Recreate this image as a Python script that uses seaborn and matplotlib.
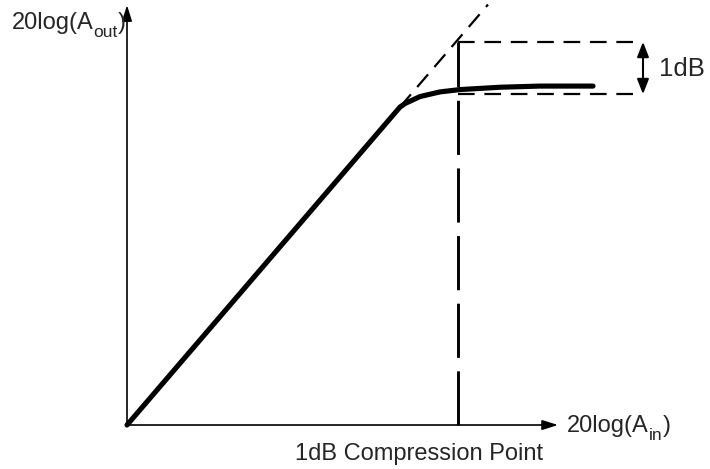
import matplotlib
matplotlib.use('Agg')
import matplotlib.pyplot as plt
import seaborn as sns
import pandas as pd

# Transfer curve of the amplifier (arbitrary dB units)
input_db = [0, 27.3, 27.8, 29.3, 31.3, 33.3, 35.3, 37.3, 41.3, 46.6]
output_db = [0, 27.3, 27.6, 28.2, 28.6, 28.8, 28.9, 29.0, 29.1, 29.1]

# Ideal (uncompressed) extension of the linear region
ideal_in = [27.3, 36.1]
ideal_out = [27.3, 36.1]

# 1dB compression point markers
p1db_in = 33.1
ideal_level = 32.9
compressed_level = 28.4
marker_end = 50.6
x_axis_end = 43.1
y_axis_end = 36.05

sns.set_style('white')
plt.rcParams['font.family'] = ['Liberation Sans', 'DejaVu Sans']
plt.rcParams['lines.scale_dashes'] = False

fig = plt.figure(figsize=(7.1, 4.69), dpi=100)
ax = fig.add_axes([0, 0, 1, 1])

curve = pd.DataFrame({'in': input_db, 'out': output_db})
sns.lineplot(data=curve, x='in', y='out', color='black', linewidth=3.7,
             sort=False, ax=ax, solid_capstyle='round')

ideal = pd.DataFrame({'in': ideal_in, 'out': ideal_out})
sns.lineplot(data=ideal, x='in', y='out', color='black', linewidth=1.6,
             ax=ax).lines[-1].set_dashes((12, 7))

# vertical line at the compression point (drawn upwards from the axis)
ax.plot([p1db_in, p1db_in], [0, ideal_level], color='black', linewidth=2.1,
        dashes=(39, 9.7))
# horizontal reference lines
ax.plot([p1db_in, marker_end], [ideal_level, ideal_level], color='black',
        linewidth=1.6, dashes=(12, 7))
ax.plot([p1db_in, marker_end], [compressed_level, compressed_level],
        color='black', linewidth=1.6, dashes=(12, 7))

# axes with arrows
arrow = dict(arrowstyle='-|>,head_length=0.95,head_width=0.3', lw=1.2,
             color='black', shrinkA=0, shrinkB=0)
ax.annotate('', xy=(x_axis_end, 0), xytext=(0, 0), arrowprops=arrow)
ax.annotate('', xy=(0, y_axis_end), xytext=(0, 0), arrowprops=arrow)

# 1dB double arrow
ax.annotate('', xy=(51.6, compressed_level), xytext=(51.6, ideal_level),
            arrowprops=dict(arrowstyle='<|-|>,head_length=0.9,head_width=0.35',
                            lw=1.5, color='black', shrinkA=0, shrinkB=0))
ax.text(53.2, 30.6, '1dB', fontsize=18.5, ha='left', va='center')


def sub_label(x, y, main, sub):
    t1 = ax.text(x, y, main, fontsize=17, ha='left', va='baseline')
    t2 = ax.annotate(sub, xy=(1, 0), xycoords=t1, xytext=(0, -4),
                     textcoords='offset points', fontsize=12.5, va='bottom')
    ax.annotate(')', xy=(1, 0), xycoords=t2, xytext=(0, 4),
                textcoords='offset points', fontsize=17, va='bottom')


sub_label(-11.5, 34.0, '20log(A', 'out')
sub_label(44.0, -0.6, '20log(A', 'in')
ax.text(29.2, -2.5, '1dB Compression Point', fontsize=17,
        ha='center', va='center')

ax.set_xlim(-12.7, 58.3)
ax.set_ylim(-44 / 11.65, 425 / 11.65 + 0.01)
ax.set_xlabel('')
ax.set_ylabel('')
ax.axis('off')

fig.savefig('out.png', dpi=100)
